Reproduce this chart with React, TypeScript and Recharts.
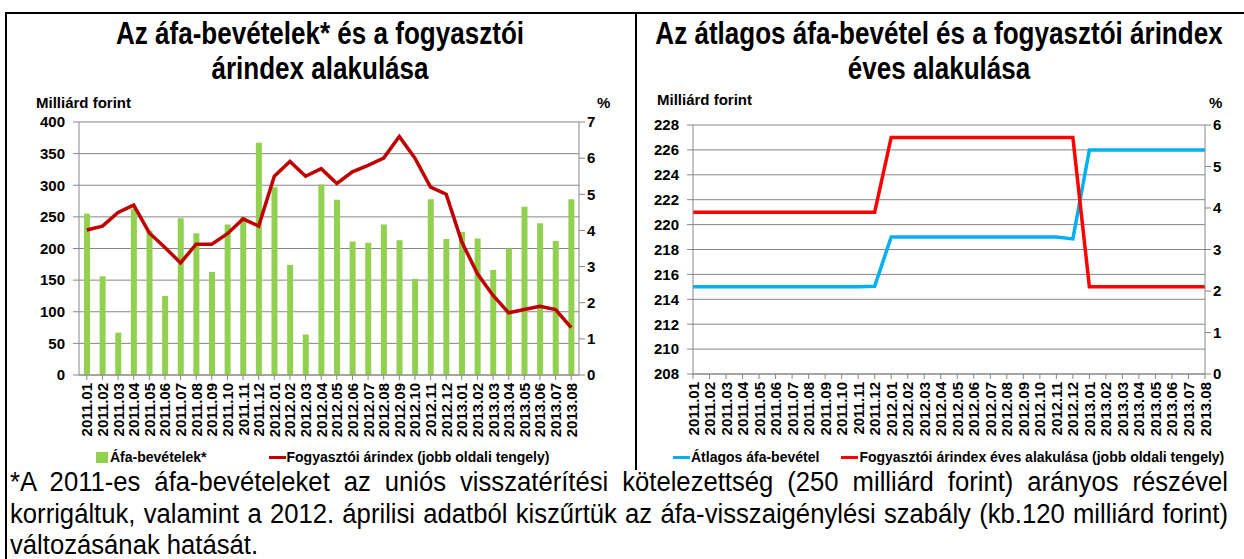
import React from "react";
import {
  ComposedChart, Bar, Line, XAxis, YAxis, CartesianGrid, Legend,
} from "recharts";

const months = [
  "2011.01", "2011.02", "2011.03", "2011.04", "2011.05", "2011.06", "2011.07", "2011.08",
  "2011.09", "2011.10", "2011.11", "2011.12", "2012.01", "2012.02", "2012.03", "2012.04",
  "2012.05", "2012.06", "2012.07", "2012.08", "2012.09", "2012.10", "2012.11", "2012.12",
  "2013.01", "2013.02", "2013.03", "2013.04", "2013.05", "2013.06", "2013.07", "2013.08",
];

// left chart: monthly VAT revenue (bn HUF) and CPI (%)
const vatRevenue = [
  255, 156, 67, 263, 228, 125, 248, 224, 163, 238, 250, 367,
  297, 174, 64, 301, 277, 211, 209, 238, 213, 152, 278, 215,
  226, 216, 166, 200, 266, 240, 212, 278,
];
const cpi = [
  4.01, 4.12, 4.5, 4.7, 3.93, 3.53, 3.1, 3.62, 3.62, 3.91, 4.32, 4.12,
  5.5, 5.91, 5.5, 5.71, 5.3, 5.62, 5.8, 6.0, 6.6, 6.0, 5.2, 5.0,
  3.68, 2.8, 2.2, 1.72, 1.81, 1.9, 1.81, 1.31,
];

// right chart: yearly average VAT revenue and yearly CPI
const avgVat = [
  215, 215, 215, 215, 215, 215, 215, 215, 215, 215, 215, 215.05,
  219, 219, 219, 219, 219, 219, 219, 219, 219, 219, 219, 218.85,
  226, 226, 226, 226, 226, 226, 226, 226,
];
const cpiAnnual = [
  3.9, 3.9, 3.9, 3.9, 3.9, 3.9, 3.9, 3.9, 3.9, 3.9, 3.9, 3.9,
  5.7, 5.7, 5.7, 5.7, 5.7, 5.7, 5.7, 5.7, 5.7, 5.7, 5.7, 5.7,
  2.1, 2.1, 2.1, 2.1, 2.1, 2.1, 2.1, 2.1,
];

const leftTicks = [0, 50, 100, 150, 200, 250, 300, 350, 400];
const leftPctTicks = [0, 1, 2, 3, 4, 5, 6, 7];
const rightTicks = [208, 210, 212, 214, 216, 218, 220, 222, 224, 226, 228];
const rightPctTicks = [0, 1, 2, 3, 4, 5, 6];

const leftSeries = ["Áfa-bevételek*", "Fogyasztói árindex (jobb oldali tengely)"];
const rightSeries = ["Átlagos áfa-bevétel", "Fogyasztói árindex éves alakulása (jobb oldali tengely)"];

const footnote = [
  "*A 2011-es áfa-bevételeket az uniós visszatérítési kötelezettség (250 milliárd forint) arányos részével",
  "korrigáltuk, valamint a 2012. áprilisi adatból kiszűrtük az áfa-visszaigénylési szabály (kb.120 milliárd forint)",
  "változásának hatását.",
];

const leftData = months.map((m, i) => ({ month: m, vat: vatRevenue[i], cpi: cpi[i] }));
const rightData = months.map((m, i) => ({ month: m, avg: avgVat[i], cpi: cpiAnnual[i] }));

const FONT = "'Liberation Sans', Arial, sans-serif";
const GRAY = "#868686";
const tickFont = { fontSize: 15, fontWeight: "bold", fill: "#000", fontFamily: FONT };

function MonthTick(props: any) {
  const { x, y, payload } = props;
  return (
    <text
      x={x} y={y} transform={`rotate(-90 ${x} ${y})`}
      textAnchor="end" dominantBaseline="central"
      fontSize={15} fontWeight="bold" fontFamily={FONT} fill="#000"
    >
      {payload.value}
    </text>
  );
}

function legendContent(start: number, gap: number, order: string[]) {
  return (props: any) => {
    const items = [...(props.payload || [])].sort((a: any, b: any) => order.indexOf(a.value) - order.indexOf(b.value));
    return (
      <div style={{ display: "flex", height: 22, alignItems: "center", paddingLeft: start, gap, fontFamily: FONT, fontSize: 14, fontWeight: "bold", whiteSpace: "nowrap" }}>
        {items.map((e: any) => (
          <div key={e.value} style={{ display: "flex", alignItems: "center" }}>
            {e.type === "square"
              ? <span style={{ width: 12, height: 11, background: e.color, marginRight: 2 }} />
              : <span style={{ width: 17, height: 3, background: e.color, marginRight: 1 }} />}
            <span>{e.value}</span>
          </div>
        ))}
      </div>
    );
  };
}

const abs = (s: React.CSSProperties): React.CSSProperties => ({ position: "absolute", ...s });

// condensed bold title, centred on the given x
const titleStyle = (center: number): React.CSSProperties => abs({
  left: center - 400, top: 16, width: 800, textAlign: "center", fontSize: 31, fontWeight: "bold",
  lineHeight: "35px", whiteSpace: "nowrap", transform: "scaleX(0.84)", transformOrigin: "center",
});

export default function App() {
  return (
    <div style={{ position: "absolute", left: 0, top: 0, width: 1244, height: 559, background: "#fff", fontFamily: FONT, color: "#000", overflow: "hidden" }}>
      {/* frame */}
      <div style={abs({ left: 5, top: 12, width: 1239, height: 2, background: "#000" })} />
      <div style={abs({ left: 5, top: 12, width: 2, height: 547, background: "#000" })} />
      <div style={abs({ left: 635, top: 12, width: 2, height: 458, background: "#000" })} />

      {/* left chart */}
      <div style={abs({ left: 0, top: 0 })}>
        <ComposedChart width={636} height={470} data={leftData} margin={{ top: 122, right: 0, left: 0, bottom: 2 }}>
          <CartesianGrid vertical={false} stroke={GRAY} yAxisId="left" />
          <XAxis dataKey="month" interval={0} height={71} tick={<MonthTick />} stroke={GRAY} tickSize={5} tickMargin={3} />
          <YAxis yAxisId="left" width={79} domain={[0, 400]} ticks={leftTicks} tick={tickFont} stroke={GRAY} tickSize={6} tickMargin={8} />
          <YAxis yAxisId="right" orientation="right" width={57} domain={[0, 7]} ticks={leftPctTicks} tick={tickFont} stroke={GRAY} tickSize={6} tickMargin={2} />
          <Legend verticalAlign="bottom" content={legendContent(96, 62, leftSeries)} wrapperStyle={{ left: 0, width: 636 }} />
          <Bar yAxisId="left" dataKey="vat" name={leftSeries[0]} fill="#92D050" barSize={6} legendType="square" isAnimationActive={false} />
          <Line yAxisId="right" dataKey="cpi" name={leftSeries[1]} stroke="#C00000" strokeWidth={3.5} dot={false} legendType="plainline" isAnimationActive={false} />
        </ComposedChart>
      </div>
      <div style={titleStyle(320)}>
        Az áfa-bevételek* és a fogyasztói<br />árindex alakulása
      </div>
      <div style={abs({ left: 36, top: 94, fontSize: 15, fontWeight: "bold" })}>Milliárd forint</div>
      <div style={abs({ left: 597, top: 94, fontSize: 15, fontWeight: "bold" })}>%</div>

      {/* right chart */}
      <div style={abs({ left: 636, top: 0 })}>
        <ComposedChart width={608} height={470} data={rightData} margin={{ top: 125, right: 0, left: 0, bottom: 2 }}>
          <CartesianGrid vertical={false} stroke={GRAY} yAxisId="left" />
          <XAxis dataKey="month" interval={0} height={72} tick={<MonthTick />} stroke={GRAY} tickSize={5} tickMargin={3} />
          <YAxis yAxisId="left" width={57} domain={[208, 228]} ticks={rightTicks} tick={tickFont} stroke={GRAY} tickSize={6} tickMargin={8} />
          <YAxis yAxisId="right" orientation="right" width={39} domain={[0, 6]} ticks={rightPctTicks} tick={tickFont} stroke={GRAY} tickSize={6} tickMargin={2} />
          <Legend verticalAlign="bottom" content={legendContent(37, 22, rightSeries)} wrapperStyle={{ left: 0, width: 608 }} />
          <Line yAxisId="left" dataKey="avg" name={rightSeries[0]} stroke="#00B0F0" strokeWidth={3.5} dot={false} legendType="plainline" isAnimationActive={false} />
          <Line yAxisId="right" dataKey="cpi" name={rightSeries[1]} stroke="#FF0000" strokeWidth={3.5} dot={false} legendType="plainline" isAnimationActive={false} />
        </ComposedChart>
      </div>
      <div style={titleStyle(939)}>
        Az átlagos áfa-bevétel és a fogyasztói árindex<br />éves alakulása
      </div>
      <div style={abs({ left: 657, top: 91, fontSize: 15, fontWeight: "bold" })}>Milliárd forint</div>
      <div style={abs({ left: 1209, top: 94, fontSize: 15, fontWeight: "bold" })}>%</div>

      {/* footnote, slightly condensed and justified */}
      <div style={abs({ left: 10, top: 467, width: 1218 / 0.95, fontSize: 27, lineHeight: "31.5px", transform: "scaleX(0.95)", transformOrigin: "left top" })}>
        {footnote.map((line, i) => (
          <div key={i} style={{ textAlign: "justify", textAlignLast: i < footnote.length - 1 ? "justify" : "left", whiteSpace: "nowrap" }}>
            {line}
          </div>
        ))}
      </div>
    </div>
  );
}
